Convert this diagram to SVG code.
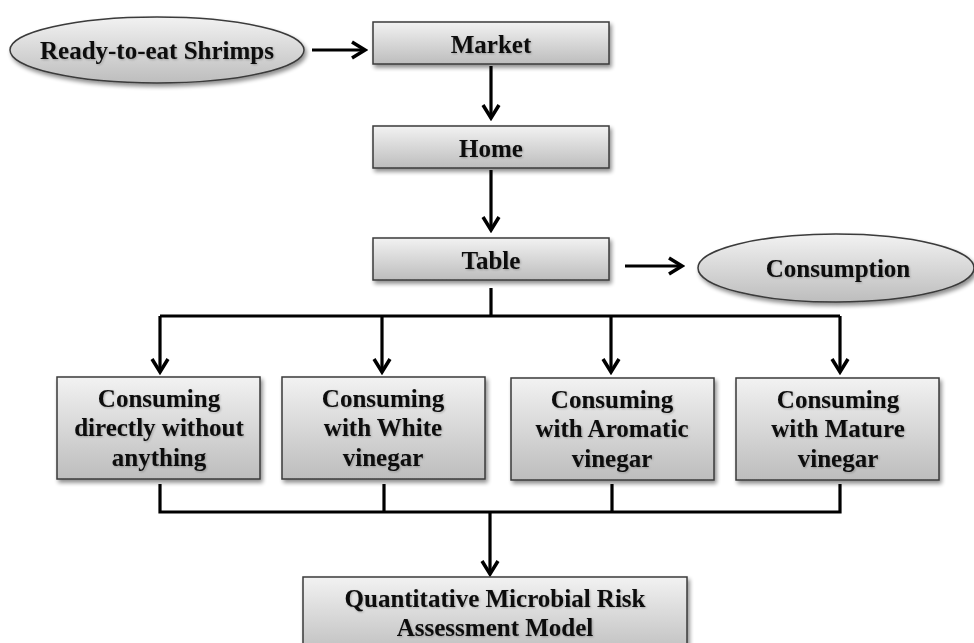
<svg xmlns="http://www.w3.org/2000/svg" width="974" height="643" viewBox="0 0 974 643">
<defs>
<linearGradient id="g" x1="0" y1="0" x2="0" y2="1">
<stop offset="0" stop-color="#f2f2f2"/>
<stop offset="1" stop-color="#bdbdbd"/>
</linearGradient>
<filter id="sh" x="-10%" y="-10%" width="130%" height="140%">
<feGaussianBlur in="SourceAlpha" stdDeviation="2"/>
<feOffset dx="2" dy="3" result="b"/>
<feComponentTransfer><feFuncA type="linear" slope="0.45"/></feComponentTransfer>
<feMerge><feMergeNode/><feMergeNode in="SourceGraphic"/></feMerge>
</filter>
<filter id="ts" x="-5%" y="-20%" width="110%" height="150%">
<feGaussianBlur in="SourceAlpha" stdDeviation="0.8"/>
<feOffset dx="1" dy="1"/>
<feComponentTransfer><feFuncA type="linear" slope="0.25"/></feComponentTransfer>
<feMerge><feMergeNode/><feMergeNode in="SourceGraphic"/></feMerge>
</filter>
<marker id="ah" viewBox="0 0 20 20" refX="17" refY="10" markerWidth="20" markerHeight="20" markerUnits="userSpaceOnUse" orient="auto">
<path d="M4 2 L17 10 L4 18" fill="none" stroke="#000" stroke-width="3.5" stroke-linejoin="miter"/>
</marker>
<style>
.box{fill:url(#g);stroke:#3a3a3a;stroke-width:1.5;filter:url(#sh)}
.t{font-family:"Liberation Serif","Times New Roman",serif;font-weight:bold;font-size:25px;fill:#0a0a0a;text-anchor:middle;filter:url(#ts)}
.c{fill:none;stroke:#000;stroke-width:3.2}
.a{fill:none;stroke:#000;stroke-width:3.2;marker-end:url(#ah)}
</style>
</defs>
<rect width="974" height="643" fill="#fff"/>
<g id="connectors">
<path class="a" d="M312 50 H365"/>
<path class="a" d="M491 66 V118"/>
<path class="a" d="M491 170 V230"/>
<path class="a" d="M625 266 H682"/>
<path class="c" d="M491 288 V316 M160 316 H840"/>
<path class="a" d="M160 316 V372"/>
<path class="a" d="M382 316 V372"/>
<path class="a" d="M611 316 V372"/>
<path class="a" d="M840 316 V372"/>
<path class="c" d="M160 484 V512 H840 V484 M384 484 V512 M612 484 V512"/>
<path class="a" d="M490 512 V574"/>
</g>
<g id="shrimps">
<ellipse class="box" cx="157" cy="50" rx="147" ry="33"/>
<text class="t" x="157" y="59">Ready-to-eat Shrimps</text>
</g>
<g id="market">
<rect class="box" x="373" y="22" width="236" height="42"/>
<text class="t" x="491" y="53">Market</text>
</g>
<g id="home">
<rect class="box" x="373" y="126" width="236" height="42"/>
<text class="t" x="491" y="157">Home</text>
</g>
<g id="table">
<rect class="box" x="373" y="238" width="236" height="42"/>
<text class="t" x="491" y="269">Table</text>
</g>
<g id="consumption">
<ellipse class="box" cx="836" cy="268" rx="138" ry="34"/>
<text class="t" x="838" y="277">Consumption</text>
</g>
<g id="direct">
<rect class="box" x="57" y="377" width="203" height="102"/>
<text class="t" x="159" y="407">Consuming</text>
<text class="t" x="159" y="436">directly without</text>
<text class="t" x="159" y="466">anything</text>
</g>
<g id="white">
<rect class="box" x="282" y="377" width="203" height="102"/>
<text class="t" x="383" y="407">Consuming</text>
<text class="t" x="383" y="436">with White</text>
<text class="t" x="383" y="466">vinegar</text>
</g>
<g id="aromatic">
<rect class="box" x="511" y="378" width="203" height="102"/>
<text class="t" x="612" y="408">Consuming</text>
<text class="t" x="612" y="437">with Aromatic</text>
<text class="t" x="612" y="467">vinegar</text>
</g>
<g id="mature">
<rect class="box" x="736" y="378" width="203" height="102"/>
<text class="t" x="838" y="408">Consuming</text>
<text class="t" x="838" y="437">with Mature</text>
<text class="t" x="838" y="467">vinegar</text>
</g>
<g id="qmra">
<rect class="box" x="303" y="577" width="384" height="80"/>
<text class="t" x="495" y="607">Quantitative Microbial Risk</text>
<text class="t" x="495" y="636">Assessment Model</text>
</g>
</svg>
